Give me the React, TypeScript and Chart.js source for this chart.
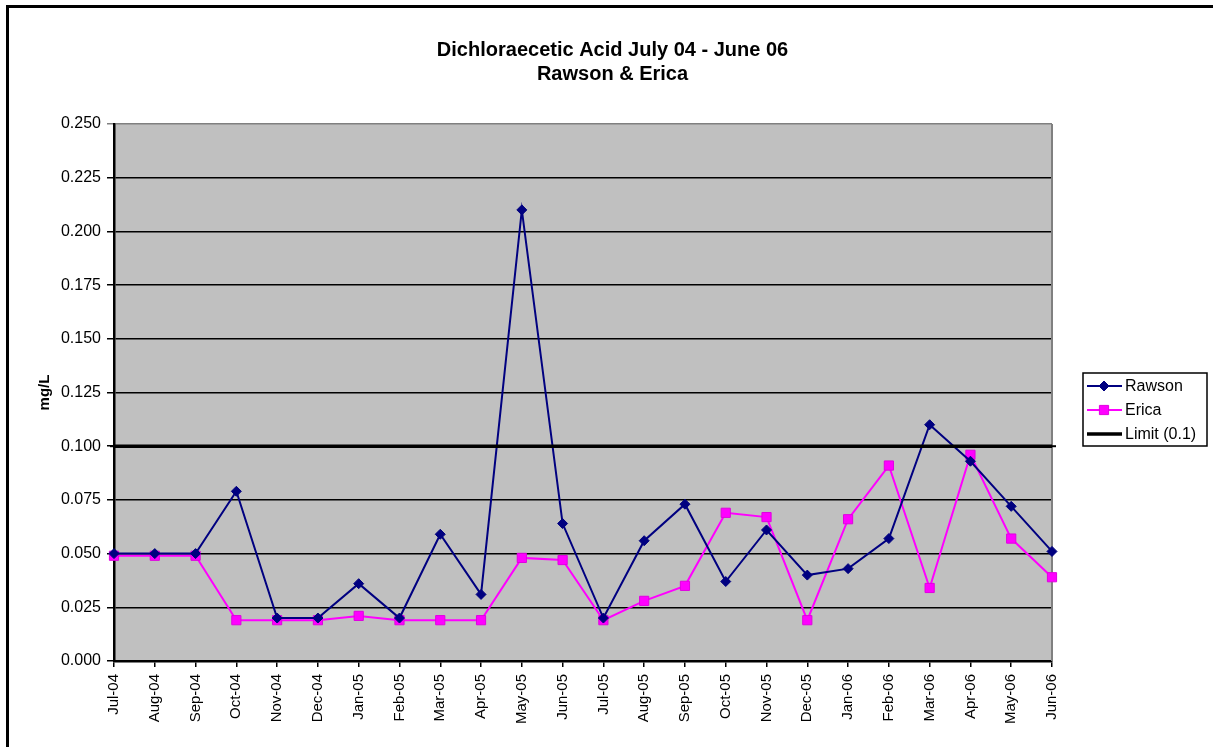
import React, { useEffect, useRef } from "react";
import { Chart, registerables } from "chart.js";
import { drawPoint } from "chart.js/helpers";

Chart.register(...registerables);

const categories = [
  "Jul-04", "Aug-04", "Sep-04", "Oct-04", "Nov-04", "Dec-04",
  "Jan-05", "Feb-05", "Mar-05", "Apr-05", "May-05", "Jun-05",
  "Jul-05", "Aug-05", "Sep-05", "Oct-05", "Nov-05", "Dec-05",
  "Jan-06", "Feb-06", "Mar-06", "Apr-06", "May-06", "Jun-06",
];

const rawson = [
  0.05, 0.05, 0.05, 0.079, 0.02, 0.02,
  0.036, 0.02, 0.059, 0.031, 0.21, 0.064,
  0.02, 0.056, 0.073, 0.037, 0.061, 0.04,
  0.043, 0.057, 0.11, 0.093, 0.072, 0.051,
];

const erica = [
  0.049, 0.049, 0.049, 0.019, 0.019, 0.019,
  0.021, 0.019, 0.019, 0.019, 0.048, 0.047,
  0.019, 0.028, 0.035, 0.069, 0.067, 0.019,
  0.066, 0.091, 0.034, 0.096, 0.057, 0.039,
];

const limit = [
  0.1, 0.1, 0.1, 0.1, 0.1, 0.1,
  0.1, 0.1, 0.1, 0.1, 0.1, 0.1,
  0.1, 0.1, 0.1, 0.1, 0.1, 0.1,
  0.1, 0.1, 0.1, 0.1, 0.1, 0.1,
];

const titleLines = ["Dichloraecetic Acid July 04 - June 06", "Rawson & Erica"];
const yAxisTitle = "mg/L";
const yMin = 0;
const yMax = 0.25;
const yStep = 0.025;

const FONT = "'Liberation Sans', Arial, sans-serif";

const plotBackground = {
  id: "plotBackground",
  beforeDraw(chart: any) {
    const { ctx, chartArea } = chart;
    ctx.save();
    ctx.fillStyle = "#C0C0C0";
    ctx.fillRect(chartArea.left, chartArea.top, chartArea.right - chartArea.left, chartArea.bottom - chartArea.top);
    ctx.restore();
  },
  beforeDatasetsDraw(chart: any) {
    const { ctx, chartArea } = chart;
    ctx.save();
    ctx.strokeStyle = "#808080";
    ctx.lineWidth = 2;
    ctx.beginPath();
    ctx.moveTo(chartArea.right, chartArea.top);
    ctx.lineTo(chartArea.right, chartArea.bottom);
    ctx.stroke();
    ctx.restore();
  },
};

const centeredTitle = {
  id: "centeredTitle",
  afterDraw(chart: any) {
    const { ctx } = chart;
    ctx.save();
    ctx.fillStyle = "#000000";
    ctx.font = `bold 20px ${FONT}`;
    ctx.textAlign = "center";
    ctx.textBaseline = "middle";
    const cx = chart.width / 2 + 6;
    titleLines.forEach((line, i) => {
      ctx.fillText(line, cx, 50 + i * 24);
    });
    ctx.restore();
  },
};

const boxLegend = {
  id: "boxLegend",
  afterDraw(chart: any) {
    const { ctx, chartArea } = chart;
    const x0 = chartArea.right + 31;
    const y0 = 373;
    const w = 124;
    const h = 73;
    ctx.save();
    ctx.fillStyle = "#FFFFFF";
    ctx.fillRect(x0, y0, w, h);
    ctx.strokeStyle = "#000000";
    ctx.lineWidth = 1.5;
    ctx.strokeRect(x0, y0, w, h);
    ctx.font = `16px ${FONT}`;
    ctx.textBaseline = "middle";
    ctx.textAlign = "left";
    chart.data.datasets.forEach((ds: any, i: number) => {
      const y = y0 + 13 + i * 24;
      ctx.strokeStyle = ds.borderColor;
      ctx.lineWidth = ds.borderWidth;
      ctx.beginPath();
      ctx.moveTo(x0 + 4, y);
      ctx.lineTo(x0 + 39, y);
      ctx.stroke();
      if (ds.legendMarker) {
        ctx.fillStyle = ds.pointBackgroundColor;
        ctx.strokeStyle = ds.pointBorderColor;
        ctx.lineWidth = 1;
        drawPoint(
          ctx,
          {
            pointStyle: ds.pointStyle,
            radius: ds.pointRadius,
            borderWidth: 1,
            rotation: 0,
          } as any,
          x0 + 21,
          y
        );
      }
      ctx.fillStyle = "#000000";
      ctx.fillText(ds.label, x0 + 42, y + 1);
    });
    ctx.restore();
  },
};

export default function App() {
  const canvasRef = useRef<HTMLCanvasElement | null>(null);

  useEffect(() => {
    const canvas = canvasRef.current;
    if (!canvas) return;
    const chart = new Chart(canvas, {
      type: "line",
      data: {
        labels: categories,
        datasets: [
          {
            label: "Rawson",
            data: rawson,
            borderColor: "#000080",
            backgroundColor: "#000080",
            pointBackgroundColor: "#000080",
            pointBorderColor: "#000080",
            borderWidth: 2,
            pointStyle: "rectRot",
            pointRadius: 5,
            pointBorderWidth: 1,
            tension: 0,
            order: 1,
            legendMarker: true,
          } as any,
          {
            label: "Erica",
            data: erica,
            borderColor: "#FF00FF",
            backgroundColor: "#FF00FF",
            pointBackgroundColor: "#FF00FF",
            pointBorderColor: "#E000E0",
            borderWidth: 2,
            pointStyle: "rect",
            pointRadius: 6.5,
            pointBorderWidth: 1,
            tension: 0,
            order: 2,
            legendMarker: true,
          } as any,
          {
            label: "Limit (0.1)",
            data: limit,
            borderColor: "#000000",
            backgroundColor: "#000000",
            pointBackgroundColor: "#000000",
            pointBorderColor: "#000000",
            borderWidth: 3.5,
            pointStyle: "line",
            pointRadius: 4,
            pointBorderWidth: 2,
            tension: 0,
            order: 0,
            clip: 6,
            legendMarker: false,
          } as any,
        ],
      },
      options: {
        responsive: false,
        animation: false,
        devicePixelRatio: 1,
        layout: { padding: { left: 32, right: 161, top: 124, bottom: 0 } },
        plugins: {
          legend: { display: false },
          tooltip: { enabled: false },
          title: { display: false },
        },
        scales: {
          x: {
            type: "category",
            offset: false,
            grid: {
              drawOnChartArea: false,
              drawTicks: true,
              tickLength: 6,
              color: "#000000",
              lineWidth: 1.5,
            },
            border: { color: "#000000", width: 2.5 },
            ticks: {
              autoSkip: false,
              maxRotation: 90,
              minRotation: 90,
              padding: 7,
              color: "#000000",
              font: { family: FONT, size: 15 },
            },
            afterFit(scale: any) {
              scale.height = 86;
            },
          },
          y: {
            min: yMin,
            max: yMax,
            ticks: {
              stepSize: yStep,
              padding: 6,
              color: "#000000",
              font: { family: FONT, size: 16 },
              callback: (v: any) => Number(v).toFixed(3),
            },
            grid: {
              color: (c: any) => (c.tick && c.tick.value > yMax - yStep / 10 ? "#808080" : "#000000"),
              lineWidth: 1.5,
              tickLength: 7,
            },
            border: { color: "#000000", width: 2.5 },
            title: {
              display: true,
              text: yAxisTitle,
              color: "#000000",
              font: { family: FONT, size: 15, weight: "bold" },
              padding: { top: 4, bottom: 4 },
            },
            afterFit(scale: any) {
              scale.width = 82;
            },
          },
        },
      },
      plugins: [plotBackground, centeredTitle, boxLegend],
    });
    return () => chart.destroy();
  }, []);

  return (
    <div
      style={{
        position: "fixed",
        left: 0,
        top: 0,
        width: 1213,
        height: 747,
        overflow: "hidden",
        background: "#FFFFFF",
      }}
    >
      <canvas
        ref={canvasRef}
        width={1213}
        height={747}
        style={{ position: "absolute", left: 0, top: 0, width: 1213, height: 747, display: "block" }}
      />
      <div
        style={{
          position: "absolute",
          left: 6,
          top: 5,
          width: 1300,
          height: 900,
          border: "3px solid #000000",
          pointerEvents: "none",
        }}
      />
    </div>
  );
}
